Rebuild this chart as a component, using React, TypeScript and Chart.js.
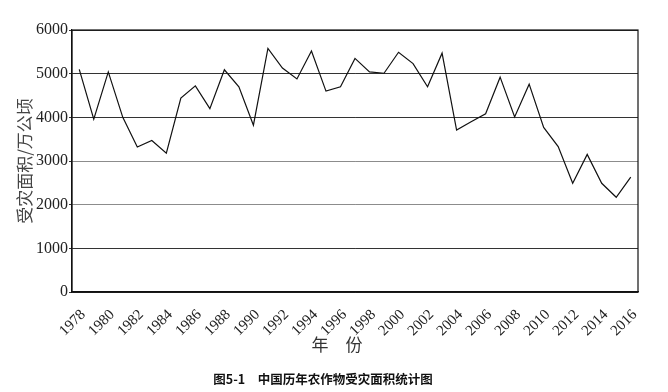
import React, { useEffect, useRef } from "react";
import { Chart, registerables } from "chart.js";

Chart.register(...registerables);

const years: string[] = [
  "1978", "1979", "1980", "1981", "1982", "1983", "1984", "1985", "1986", "1987",
  "1988", "1989", "1990", "1991", "1992", "1993", "1994", "1995", "1996", "1997",
  "1998", "1999", "2000", "2001", "2002", "2003", "2004", "2005", "2006", "2007",
  "2008", "2009", "2010", "2011", "2012", "2013", "2014", "2015", "2016",
];

const affectedArea: number[] = [
  5100, 3960, 5040, 4000, 3320, 3470, 3180, 4440, 4720, 4200,
  5090, 4700, 3820, 5580, 5130, 4880, 5520, 4600, 4700, 5350,
  5040, 5010, 5490, 5230, 4700, 5470, 3710, 3900, 4080, 4920,
  4010, 4760, 3770, 3330, 2490, 3150, 2490, 2170, 2630,
];

const yTicks: number[] = [0, 1000, 2000, 3000, 4000, 5000, 6000];

const yTitle = "受灾面积/万公顷";
const xTitle = "年\u3000份";
const caption = "图5-1\u3000中国历年农作物受灾面积统计图";

const framePlugin = {
  id: "frameAndTexts",
  afterDraw(chart: any) {
    const { ctx, chartArea } = chart;
    ctx.save();
    ctx.strokeStyle = "#111";
    ctx.lineWidth = 1.2;
    ctx.strokeRect(chartArea.left, chartArea.top, chartArea.right - chartArea.left, chartArea.bottom - chartArea.top);
    ctx.fillStyle = "#333";
    ctx.textAlign = "center";
    ctx.textBaseline = "middle";
    ctx.font = "17px 'Noto Sans CJK SC'";
    ctx.fillText(xTitle, 337, 345);
    ctx.fillStyle = "#111";
    ctx.font = "bold 12.5px 'Noto Sans CJK SC'";
    ctx.fillText(caption, 323, 379);
    ctx.restore();
  },
};

export default function App() {
  const canvasRef = useRef<HTMLCanvasElement | null>(null);

  useEffect(() => {
    if (!canvasRef.current) return;
    const chart = new Chart(canvasRef.current, {
      type: "line",
      data: {
        labels: years,
        datasets: [
          {
            data: affectedArea,
            borderColor: "#111",
            borderWidth: 1.2,
            pointRadius: 0,
            tension: 0,
            fill: false,
          },
        ],
      },
      options: {
        animation: false,
        responsive: false,
        maintainAspectRatio: false,
        layout: { padding: { top: 30, right: 30, left: 0, bottom: 0 } },
        plugins: {
          legend: { display: false },
          tooltip: { enabled: false },
          title: { display: false },
        },
        scales: {
          x: {
            type: "category",
            offset: true,
            grid: { display: false },
            border: { display: true, color: "#111", width: 1.2 },
            ticks: {
              autoSkip: false,
              minRotation: 45,
              maxRotation: 45,
              padding: 6,
              labelOffset: 4,
              color: "#222",
              font: { family: "'Liberation Serif'", size: 15 },
              callback: (_v: any, i: number) => (i % 2 === 0 ? years[i] : ""),
            },
            afterFit: (scale: any) => {
              scale.height = 100;
            },
          },
          y: {
            min: 0,
            max: 6000,
            afterBuildTicks: (scale: any) => {
              scale.ticks = yTicks.map((v) => ({ value: v }));
            },
            grid: {
              color: (c: any) =>
                c.tick && (c.tick.value === 2000 || c.tick.value === 3000) ? "#8c8c8c" : "#333",
              tickColor: "#333",
              tickLength: 3,
              lineWidth: 1,
            },
            border: { display: true, color: "#111", width: 1.2 },
            ticks: {
              padding: 1,
              color: "#222",
              font: { family: "'Liberation Serif'", size: 16 },
              callback: (v: any) => String(v),
            },
            title: {
              display: true,
              text: yTitle,
              color: "#444",
              padding: { top: 14, bottom: 0 },
              font: { family: "'Noto Sans CJK SC'", size: 17 },
            },
            afterFit: (scale: any) => {
              scale.width = 72;
            },
          },
        },
      },
      plugins: [framePlugin],
    });
    return () => chart.destroy();
  }, []);

  return (
    <div style={{ position: "fixed", left: 0, top: 0, width: 668, height: 392, background: "#fff" }}>
      <canvas ref={canvasRef} width={668} height={392} style={{ width: 668, height: 392 }} />
    </div>
  );
}
